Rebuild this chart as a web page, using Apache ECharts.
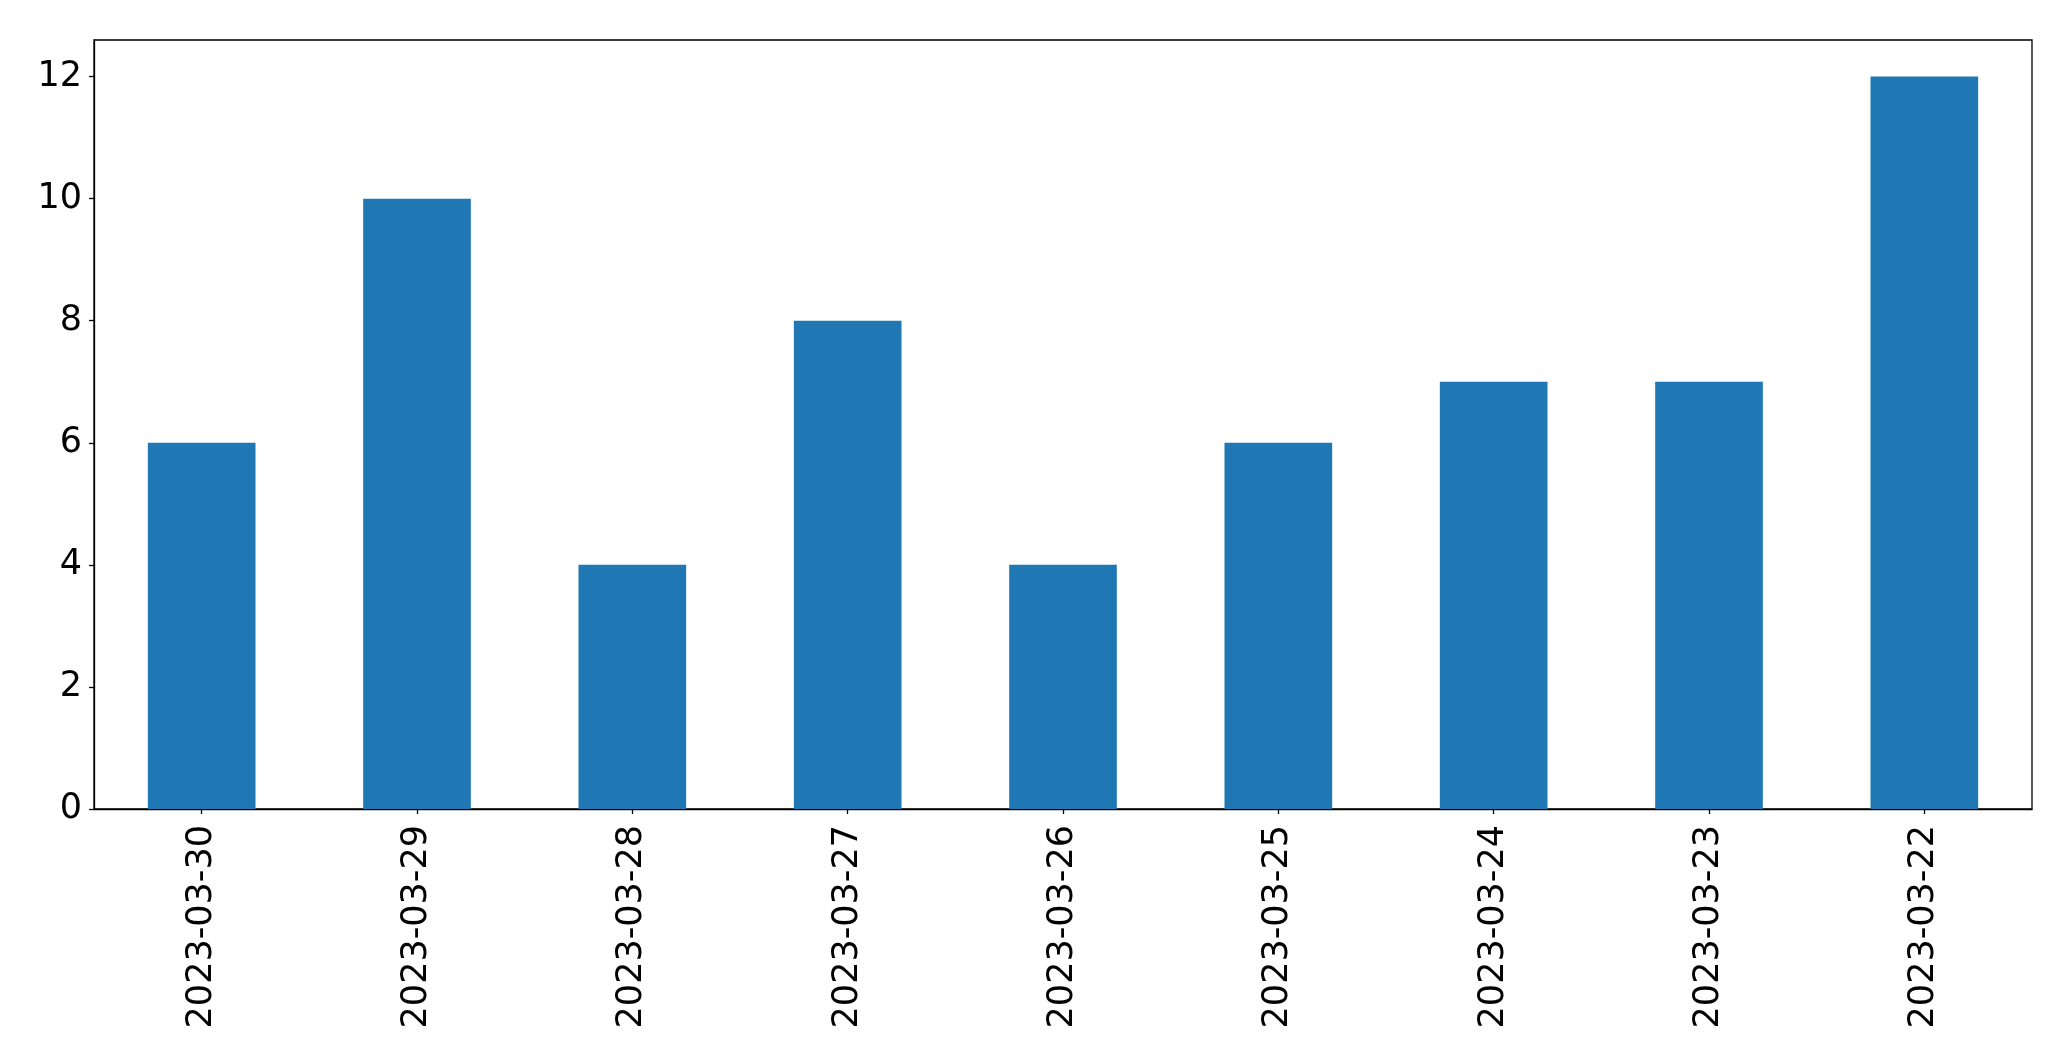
<!DOCTYPE html>
<html>
<head>
<meta charset="utf-8">
<script src="https://cdn.jsdelivr.net/npm/echarts@6/dist/echarts.min.js"></script>
<style>
html,body{margin:0;padding:0;background:#fff;}
#c{width:2071px;height:1061px;}
</style>
</head>
<body>
<div id="c"></div>
<script>
const categories = ["2023-03-30","2023-03-29","2023-03-28","2023-03-27","2023-03-26","2023-03-25","2023-03-24","2023-03-23","2023-03-22"];
const values = [6, 10, 4, 8, 4, 6, 7, 7, 12];
const yTicks = [0, 2, 4, 6, 8, 10, 12];

const chart = echarts.init(document.getElementById('c'), null, {renderer: 'canvas'});
const font = 'DejaVu Sans';
chart.setOption({
  animation: false,
  grid: {
    left: 94, right: 39, top: 40, bottom: 252,
    show: true, borderColor: '#000', borderWidth: 1.3, backgroundColor: '#fff'
  },
  xAxis: {
    type: 'category',
    data: categories,
    axisLine: {show: true, lineStyle: {color: '#000', width: 1.3}},
    axisTick: {show: true, alignWithLabel: true, length: 5, lineStyle: {color: '#000', width: 1.3}},
    axisLabel: {rotate: 90, color: '#000', fontFamily: font, fontSize: 35, margin: 16, interval: 0},
    splitLine: {show: false}
  },
  yAxis: {
    type: 'value',
    min: 0, max: 12.6, interval: 2,
    axisLine: {show: true, lineStyle: {color: '#000', width: 1.3}},
    axisTick: {show: true, length: 5, lineStyle: {color: '#000', width: 1.3}},
    axisLabel: {
      color: '#000', fontFamily: font, fontSize: 35, margin: 12,
      showMaxLabel: false,
      formatter: v => yTicks.includes(v) ? String(v) : ''
    },
    splitLine: {show: false}
  },
  series: [{
    type: 'bar',
    data: values,
    barWidth: '50%',
    itemStyle: {color: '#1f77b4'}
  }]
});
</script>
</body>
</html>
